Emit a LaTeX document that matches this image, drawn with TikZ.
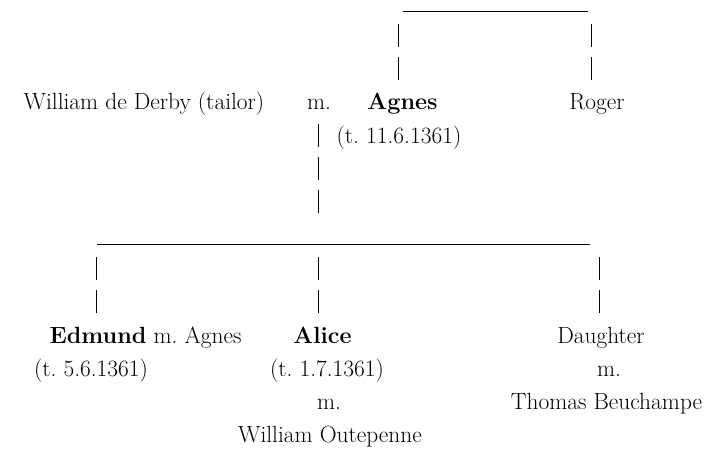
\documentclass[tikz,border=0pt]{standalone}
\usepackage{fontspec}
\frenchspacing
\begin{document}
\begin{tikzpicture}[x=1pt,y=-1pt,
  person/.style={anchor=base,inner sep=0pt,outer sep=0pt,text=black,
                 font=\fontsize{23.4}{28}\selectfont},
  pipe/.style={line width=1.5pt,draw=black,dash pattern=on 23pt off 10pt},
  bar/.style={line width=1.2pt,draw=black}]
\useasboundingbox[fill=white] (0,0) rectangle (715,450);

% --- upper generation ---
\node[person] (william) at (144,109) {William de Derby (tailor)};
\node[person] (marr1)   at (319,109) {m.};
\node[person] (agnes)   at (402.5,109) {\textbf{Agnes}};
\node[person] (roger)   at (597,109) {Roger};
\node[person] (agnesd)  at (399,143) {(t. 11.6.1361)};

% --- children ---
\node[person] (edmund)  at (145.5,343) {\textbf{Edmund} m. Agnes};
\node[person] (edmundd) at (91,376) {(t. 5.6.1361)};
\node[person] (alice)   at (322.5,343) {\textbf{Alice}};
\node[person] (aliced)  at (327,376) {(t. 1.7.1361)};
\node[person] (marr2)   at (329,409) {m.};
\node[person] (outep)   at (330,442) {William Outepenne};
\node[person] (daught)  at (601,343) {Daughter};
\node[person] (marr3)   at (609,376) {m.};
\node[person] (thomas)  at (606.5,409) {Thomas Beuchampe};

% --- sibling bar of Agnes and Roger ---
\coordinate (topL) at (403,11.5);
\coordinate (topR) at (588,11.5);
\draw[bar] (topL) -- (topR);
\coordinate (agnesUp) at (398.5,24);
\coordinate (agnesLo) at (398.5,80);
\coordinate (rogerUp) at (591.5,24);
\coordinate (rogerLo) at (591.5,80);
\draw[pipe] (agnesUp) -- (agnesLo);
\draw[pipe] (rogerUp) -- (rogerLo);

% --- descent from the marriage ---
\coordinate (descUp) at (318.5,124);
\coordinate (descLo) at (318.5,213);
\draw[pipe] (descUp) -- (descLo);

% --- children's bar ---
\coordinate (botL) at (97,244.5);
\coordinate (botR) at (590,244.5);
\draw[bar] (botL) -- (botR);
\coordinate (edUp) at (96.5,257);
\coordinate (edLo) at (96.5,313);
\coordinate (alUp) at (318.5,257);
\coordinate (alLo) at (318.5,313);
\coordinate (daUp) at (599.5,257);
\coordinate (daLo) at (599.5,313);
\draw[pipe] (edUp) -- (edLo);
\draw[pipe] (alUp) -- (alLo);
\draw[pipe] (daUp) -- (daLo);
\end{tikzpicture}
\end{document}
